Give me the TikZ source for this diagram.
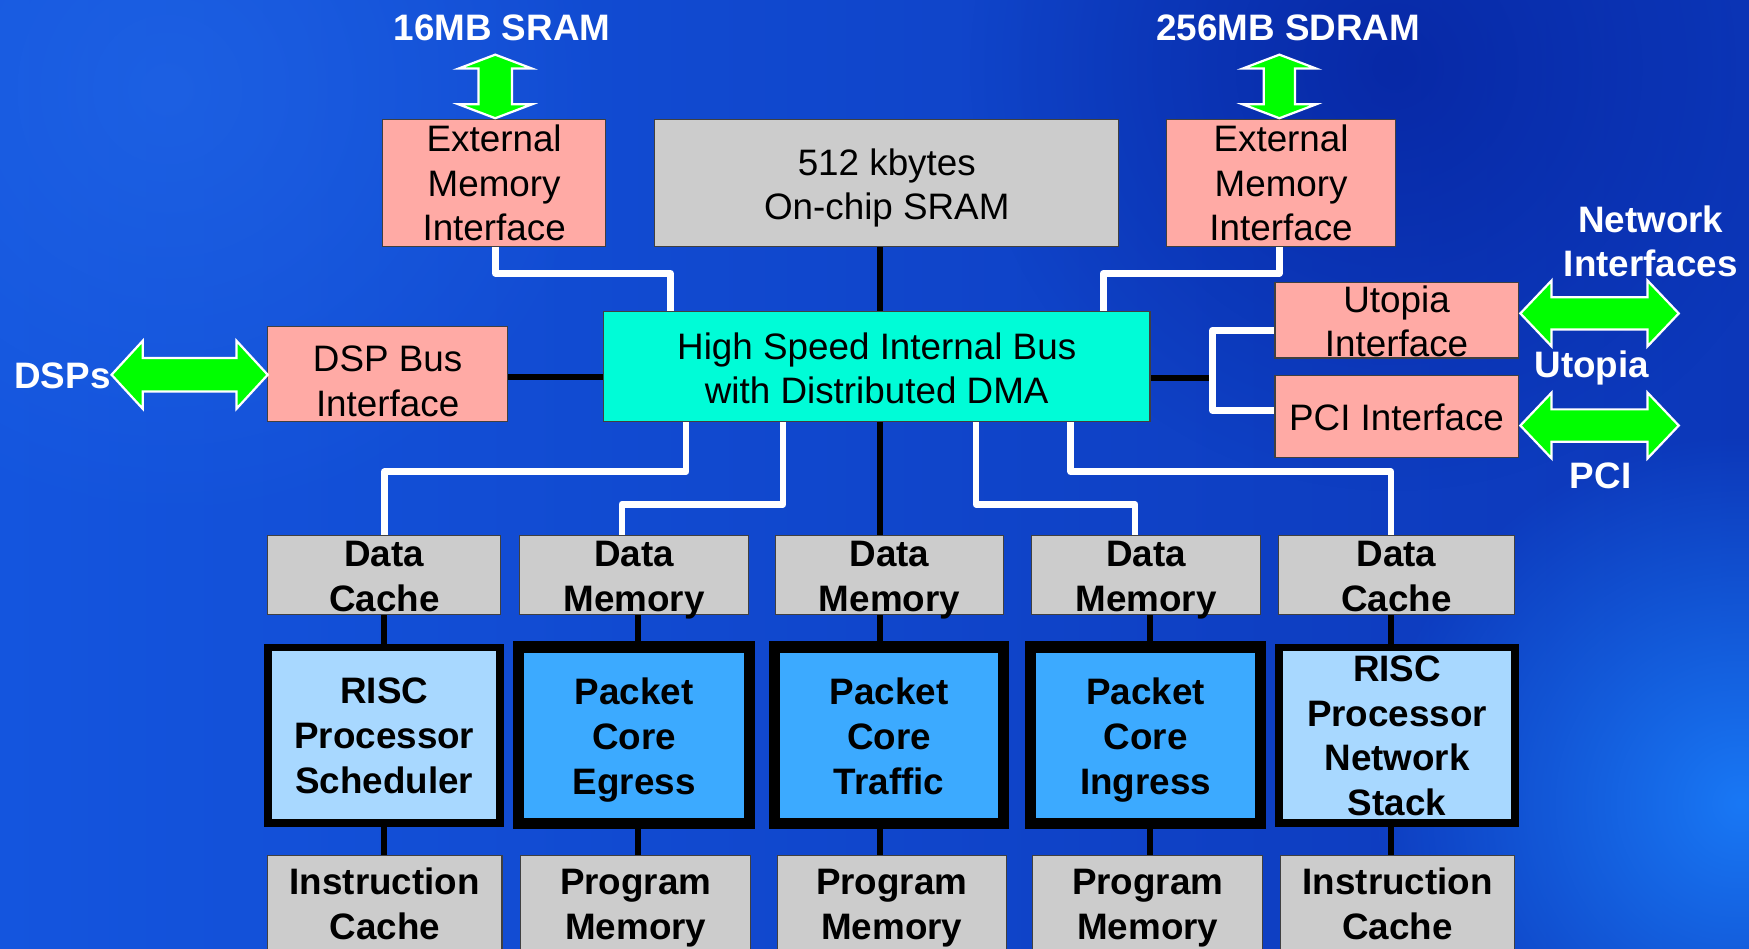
\documentclass[tikz,border=0pt]{standalone}
\usepackage{fontspec}
\setmainfont{Liberation Sans}
\usetikzlibrary{fadings,calc}
\pgfdeclarelayer{bg}
\pgfdeclarelayer{edges}
\pgfsetlayers{bg,edges,main}

\definecolor{pinkbox}{RGB}{255,170,165}
\definecolor{graybox}{RGB}{204,204,204}
\definecolor{busfill}{RGB}{0,252,215}
\definecolor{riscfill}{RGB}{168,216,255}
\definecolor{pktfill}{RGB}{60,170,255}
\definecolor{arrowgreen}{RGB}{0,255,0}
\definecolor{bgL}{RGB}{20,85,222}
\definecolor{bgM}{RGB}{12,58,200}
\definecolor{bgR}{RGB}{12,55,185}
\definecolor{bgdark}{RGB}{6,36,160}
\definecolor{bglight}{RGB}{25,120,245}
\definecolor{bgtl}{RGB}{35,105,232}

\tikzfading[name=softspot, inner color=transparent!0, outer color=transparent!100]

% strut that centres a line on its capital letters
\newcommand\vs{\rule[-8pt]{0pt}{40pt}}

% horizontal double block arrow: x1, x2, yc, head length, head half, shaft half
\newcommand\hdarrow[6]{%
  \filldraw[grarrow] (#1,#3) -- (#1+#4,#3-#5) -- (#1+#4,#3-#6) -- (#2-#4,#3-#6)
    -- (#2-#4,#3-#5) -- (#2,#3) -- (#2-#4,#3+#5) -- (#2-#4,#3+#6)
    -- (#1+#4,#3+#6) -- (#1+#4,#3+#5) -- cycle;}
% vertical double block arrow: xc, y1, y2, head length, head half, shaft half
\newcommand\vdarrow[6]{%
  \filldraw[grarrow] (#1,#2) -- (#1+#5,#2+#4) -- (#1+#6,#2+#4) -- (#1+#6,#3-#4)
    -- (#1+#5,#3-#4) -- (#1,#3) -- (#1-#5,#3-#4) -- (#1-#6,#3-#4)
    -- (#1-#6,#2+#4) -- (#1-#5,#2+#4) -- cycle;}

\begin{document}
\begin{tikzpicture}[x=1pt, y=-1pt,
  box/.style={rectangle, inner sep=0pt, outer sep=0pt},
  pinkb/.style={box, fill=pinkbox, draw=black!75, line width=1pt},
  grayb/.style={box, fill=graybox, draw=black!75, line width=1pt},
  busb/.style={box, fill=busfill, draw=black!75, line width=1pt},
  riscb/.style={box, fill=riscfill, draw=black, line width=7pt},
  pktb/.style={box, fill=pktfill, draw=black, line width=10pt},
  lbl/.style={align=center, inner sep=0pt, font=\fontsize{33}{40}\selectfont},
  blbl/.style={lbl, font=\fontsize{33}{40}\selectfont\bfseries},
  wlbl/.style={blbl, text=white},
  wire/.style={white, line width=6pt, line join=round},
  link/.style={black, line width=5pt},
  grarrow/.style={fill=arrowgreen, draw=white, line width=2pt, line join=miter}]

\useasboundingbox (0,0) rectangle (1568,850);

% background
\begin{pgfonlayer}{bg}
  \shade[left color=bgL, middle color=bgM, right color=bgR] (0,0) rectangle (1568,850);
  \fill[bgtl, path fading=softspot, fill opacity=0.6] (150,80) circle (400);
  \fill[bgdark, path fading=softspot, fill opacity=0.8] (1250,60) circle (380);
  \fill[bglight, path fading=softspot] (1560,720) circle (330);
\end{pgfonlayer}

% upper blocks
\node[pinkb, minimum width=200pt, minimum height=114pt] (emiL) at (443,164) {};
\node[lbl] (emiL-t) at (emiL) {\vs External\\Memory\\Interface\vs};
\node[grayb, minimum width=416pt, minimum height=114pt] (sram) at (795,164) {};
\node[lbl] (sram-t) at (795,165) {\vs 512 kbytes\\On-chip SRAM\vs};
\node[pinkb, minimum width=205pt, minimum height=114pt] (emiR) at (1148.5,164) {};
\node[lbl] (emiR-t) at (emiR) {\vs External\\Memory\\Interface\vs};

\node[busb, minimum width=490pt, minimum height=99pt] (bus) at (786,328.5) {};
\node[lbl] (bus-t) at (786,330) {\vs High Speed Internal Bus\\with Distributed DMA\vs};
\node[pinkb, minimum width=215pt, minimum height=85pt] (dsp) at (347.5,335.5) {};
\node[lbl] (dsp-t) at (347.5,341.5) {\vs DSP Bus\\Interface\vs};
\node[pinkb, minimum width=218pt, minimum height=68pt] (utopia) at (1252,287) {};
\node[lbl] (utopia-t) at (1252,288) {\vs Utopia\\Interface\vs};
\node[pinkb, minimum width=218pt, minimum height=73pt] (pci) at (1252,373.5) {};
\node[lbl] (pci-t) at (1252,374) {\vs PCI Interface\vs};

% data memories / caches
\node[grayb, minimum width=209pt, minimum height=71pt] (d1) at (344.5,515.5) {};
\node[grayb, minimum width=205pt, minimum height=71pt] (d2) at (568.5,515.5) {};
\node[grayb, minimum width=205pt, minimum height=71pt] (d3) at (797.5,515.5) {};
\node[grayb, minimum width=205pt, minimum height=71pt] (d4) at (1027.5,515.5) {};
\node[grayb, minimum width=212pt, minimum height=71pt] (d5) at (1252,515.5) {};
\node[blbl] (d1-t) at (344.5,516) {\vs Data\\Cache\vs};
\node[blbl] (d2-t) at (568.5,516) {\vs Data\\Memory\vs};
\node[blbl] (d3-t) at (797.5,516) {\vs Data\\Memory\vs};
\node[blbl] (d4-t) at (1027.5,516) {\vs Data\\Memory\vs};
\node[blbl] (d5-t) at (1252,516) {\vs Data\\Cache\vs};

% processor cores
\node[riscb, minimum width=208pt, minimum height=157pt] (c1) at (344.5,659) {};
\node[pktb, minimum width=207pt, minimum height=158pt] (c2) at (568.5,659) {};
\node[pktb, minimum width=206pt, minimum height=158pt] (c3) at (797,659) {};
\node[pktb, minimum width=206pt, minimum height=158pt] (c4) at (1027,659) {};
\node[riscb, minimum width=212pt, minimum height=157pt] (c5) at (1252.5,659) {};
\node[blbl] (c1-t) at (344.5,659) {\vs RISC\\Processor\\Scheduler\vs};
\node[blbl] (c2-t) at (568.5,660) {\vs Packet\\Core\\Egress\vs};
\node[blbl] (c3-t) at (797,660) {\vs Packet\\Core\\Traffic\vs};
\node[blbl] (c4-t) at (1027,660) {\vs Packet\\Core\\Ingress\vs};
\node[blbl] (c5-t) at (1252.5,659) {\vs RISC\\Processor\\Network\\Stack\vs};

% program memories / instruction caches
\node[grayb, minimum width=210pt, minimum height=120pt] (p1) at (345,827) {};
\node[grayb, minimum width=206pt, minimum height=120pt] (p2) at (570,827) {};
\node[grayb, minimum width=205pt, minimum height=120pt] (p3) at (799.5,827) {};
\node[grayb, minimum width=206pt, minimum height=120pt] (p4) at (1029,827) {};
\node[grayb, minimum width=210pt, minimum height=120pt] (p5) at (1253,827) {};
\node[blbl] (p1-t) at (345,810) {\vs Instruction\\Cache\vs};
\node[blbl] (p2-t) at (570,810) {\vs Program\\Memory\vs};
\node[blbl] (p3-t) at (799.5,810) {\vs Program\\Memory\vs};
\node[blbl] (p4-t) at (1029,810) {\vs Program\\Memory\vs};
\node[blbl] (p5-t) at (1253,810) {\vs Instruction\\Cache\vs};

% outside labels
\node[wlbl] (sramL) at (450,24) {\vs 16MB SRAM\vs};
\node[wlbl] (sdramL) at (1155,24) {\vs 256MB SDRAM\vs};
\node[wlbl] (dspL) at (56,336) {\vs DSPs\vs};
\node[wlbl] (netL) at (1480,216) {\vs Network\\Interfaces\vs};
\node[wlbl] (utoL) at (1427,326) {\vs Utopia\vs};
\node[wlbl] (pciL) at (1435,426) {\vs PCI\vs};

% green block arrows
\vdarrow{444}{49}{106}{12.5}{33}{15}
\vdarrow{1147}{49}{106}{12.5}{33}{14}
\hdarrow{100}{240}{336}{28}{30.5}{15}
\hdarrow{1363}{1505}{281}{28}{29.5}{14.5}
\hdarrow{1363}{1505}{381.5}{28}{29.5}{14.5}

% connectors
\begin{pgfonlayer}{edges}
  \coordinate (spine) at (789,0);
  \draw[link] (sram.south -| spine) -- (bus.north -| spine);
  \draw[link] (bus.south -| spine) -- (d3.north -| spine);
  \draw[link] (d3.south -| spine) -- (c3.north -| spine);
  \draw[link] (c3.south -| spine) -- (p3.north -| spine);

  \foreach \i/\x in {1/344,2/572,4/1031,5/1247}{
    \coordinate (col\i) at (\x,0);
    \draw[link] (d\i.south -| col\i) -- (c\i.north -| col\i);
    \draw[link] (c\i.south -| col\i) -- (p\i.north -| col\i);
  }

  \draw[link] ([yshift=-2.5pt]dsp.east) -- ([yshift=-2.5pt]dsp.east -| bus.west);
  \draw[link] ([yshift=-10.5pt]bus.east) -- ++(56,0) coordinate (br);
  \draw[wire] ([yshift=-9pt]utopia.west) -| (br) |- ([yshift=5.5pt]pci.west);

  \draw[wire] ([xshift=1pt]emiL.south) -- ++(0,24) -| ([xshift=60pt]bus.north west);
  \draw[wire] ([xshift=-1.5pt]emiR.south) -- ++(0,24) -| ([xshift=-42pt]bus.north east);
  \draw[wire] ([xshift=74pt]bus.south west) -- ++(0,45) -| (d1.north);
  \draw[wire] ([xshift=161pt]bus.south west) -- ++(0,74) -| ([xshift=-11pt]d2.north);
  \draw[wire] ([xshift=334pt]bus.south west) -- ++(0,74) -| ([xshift=-10pt]d4.north);
  \draw[wire] ([xshift=419pt]bus.south west) -- ++(0,45) -| ([xshift=-5pt]d5.north);
\end{pgfonlayer}
\end{tikzpicture}
\end{document}
